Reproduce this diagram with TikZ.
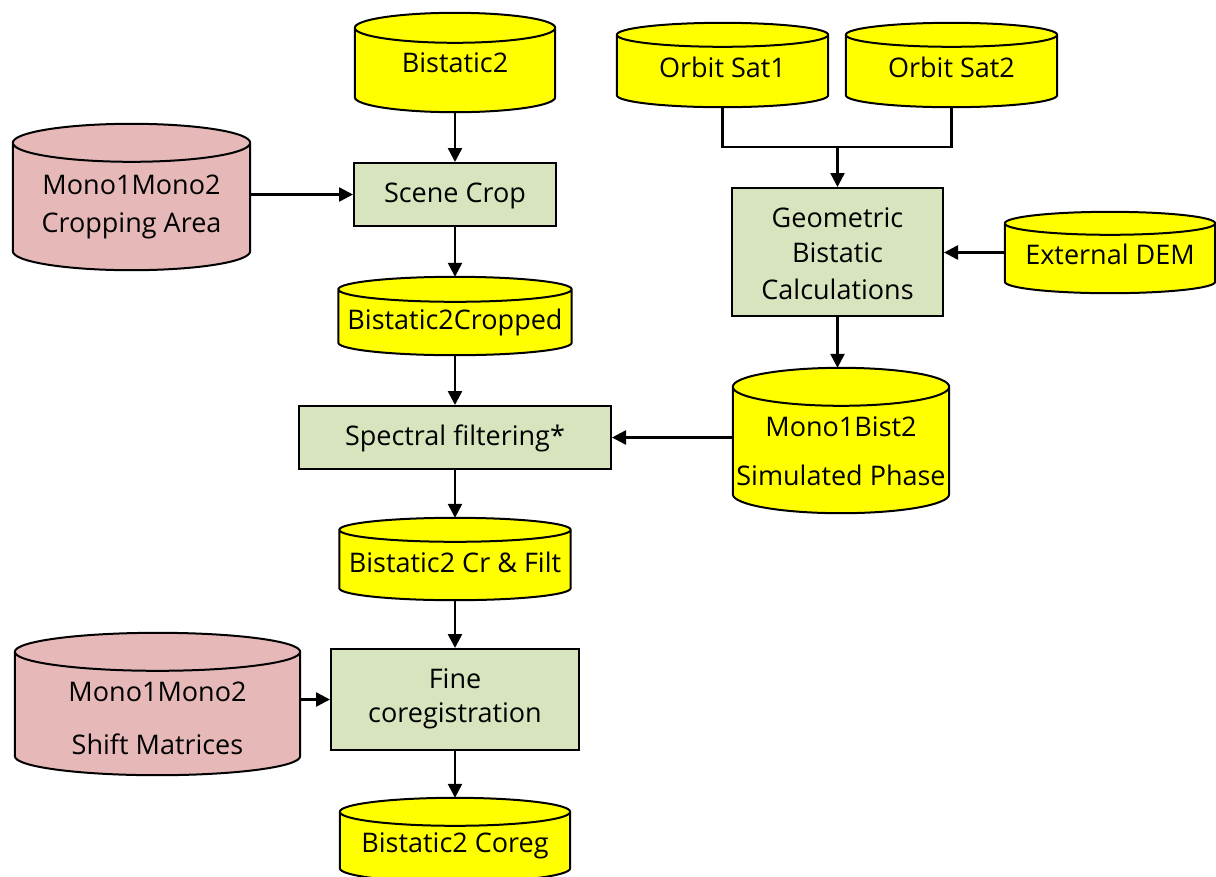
\documentclass[tikz,border=0pt]{standalone}
\usepackage{fontspec}
\setmainfont{Open Sans}
\usetikzlibrary{arrows.meta,calc,backgrounds}

\definecolor{dbyellow}{HTML}{FFFF00}
\definecolor{dbpink}{HTML}{E6B9B8}
\definecolor{procgreen}{HTML}{D7E4BD}

% Draw a data-store cylinder inside the frame of node #1;
% #2 = half height of the end ellipses, #3 = fill colour
\newcommand\drum[3]{%
  \begin{scope}[on background layer]
    \path let \p1=(#1.north west), \p2=(#1.south east), \n1={(\x2-\x1)/2} in
      [fill=#3, draw=black, line width=2pt, line join=round]
      (\x1,\y1-#2) -- (\x1,\y2+#2)
        arc[start angle=180, end angle=360, x radius=\n1, y radius=#2]
        -- (\x2,\y1-#2)
        arc[start angle=0, end angle=180, x radius=\n1, y radius=#2] -- cycle
      (\x1,\y1-#2) arc[start angle=180, end angle=360, x radius=\n1, y radius=#2];
  \end{scope}}

\tikzset{
  frame/.style 2 args={rectangle, inner sep=0pt, minimum width=#1pt, minimum height=#2pt},
  proc/.style={draw=black, fill=procgreen, line width=2pt},
  every label/.style={inner sep=0pt, text height=19pt, text depth=0pt,
    font=\fontsize{27}{32}\selectfont, text=black},
  link/.style={line width=2.5pt, draw=black},
  arrow/.style={link, -{Triangle[length=14pt,width=14pt]}},
}

\begin{document}
\begin{tikzpicture}[x=1pt, y=1pt]
\useasboundingbox (0,0) rectangle (1216,-876);

% ---- left column: processing chain ----
\node[frame={200}{99}, label={[yshift=0pt]center:Bistatic2}] (b2) at (455,-62.5) {};
\node[frame={237}{146}, label={[yshift=12pt]center:Mono1Mono2},
      label={[yshift=-26pt]center:Cropping Area}] (crop) at (131.5,-197) {};
\node[proc, frame={202}{63}, label={[yshift=1.5pt]center:Scene Crop}] (scene) at (455,-194.5) {};
\node[frame={233}{78}, label={[yshift=-4pt]center:Bistatic2Cropped}] (b2c) at (455,-316) {};
\node[proc, frame={312}{63}, label={[yshift=1.5pt]center:Spectral filtering*}] (spec) at (455,-437.5) {};
\node[frame={231}{82}, label={[yshift=-4pt]center:Bistatic2 Cr \& Filt}] (filt) at (455,-559) {};
\node[proc, frame={248}{101}, label={[yshift=20.5pt]center:Fine},
      label={[yshift=-13pt]center:coregistration}] (fine) at (455,-699.5) {};
\node[frame={285}{142}, label={[yshift=12pt]center:Mono1Mono2},
      label={[yshift=-41pt]center:Shift Matrices}] (shift) at (157.5,-704) {};
\node[frame={230}{84}, label={[yshift=-3pt]center:Bistatic2 Coreg}] (coreg) at (455,-840) {};

% ---- right column: simulated phase ----
\node[frame={211}{84}, label={[yshift=-3pt]center:Orbit Sat1}] (sat1) at (722.5,-65) {};
\node[frame={211}{84}, label={[yshift=-3pt]center:Orbit Sat2}] (sat2) at (951.5,-65) {};
\node[proc, frame={211}{128}, label={[yshift=34.5pt]center:Geometric},
      label={[yshift=-1pt]center:Bistatic},
      label={[yshift=-37.5pt]center:Calculations}] (geo) at (837.5,-252) {};
\node[frame={210}{81}, label={[yshift=-2.5pt]center:External DEM}] (dem) at (1110,-252.5) {};
\node[frame={216}{145}, label={[yshift=13.5pt]center:Mono1Bist2},
      label={[yshift=-35.5pt]center:Simulated Phase}] (sim) at (841,-440.5) {};

% ---- cylinder bodies ----
\drum{b2}{15pt}{dbyellow}
\drum{crop}{19pt}{dbpink}
\drum{b2c}{12.5pt}{dbyellow}
\drum{filt}{12pt}{dbyellow}
\drum{shift}{19pt}{dbpink}
\drum{coreg}{14pt}{dbyellow}
\drum{sat1}{12pt}{dbyellow}
\drum{sat2}{12pt}{dbyellow}
\drum{dem}{11.5pt}{dbyellow}
\drum{sim}{19pt}{dbyellow}

% ---- connectors ----
\coordinate (join) at (837.5,-147);
\draw[arrow] (b2.south) -- (scene.north);
\draw[arrow] (crop.east |- scene.west) -- (scene.west);
\draw[arrow] (scene.south) -- (b2c.north);
\draw[arrow] (b2c.south) -- (spec.north);
\draw[arrow] (spec.south) -- (filt.north);
\draw[arrow] (filt.south) -- (fine.north);
\draw[arrow] (shift.east |- fine.west) -- (fine.west);
\draw[arrow] (fine.south) -- (coreg.north);

\draw[link, line join=miter] (sat1.south) -- (sat1.south |- join) -- (sat2.south |- join) -- (sat2.south);
\draw[arrow] (join) -- (geo.north);
\draw[arrow] (dem.west) -- (dem.west -| geo.east);
\draw[arrow] (geo.south) -- (geo.south |- sim.north);
\draw[arrow] (sim.west |- spec.east) -- (spec.east);
\end{tikzpicture}
\end{document}
